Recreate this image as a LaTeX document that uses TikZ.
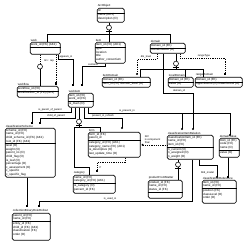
\documentclass[tikz,border=0pt]{standalone}
\usepackage{fontspec}
\setmainfont{Liberation Sans}
\tikzset{
  ebox/.style={draw, rounded corners=1.6pt, line width=0.6pt, inner sep=0pt, anchor=north west},
  etxt/.style={inner sep=0pt, align=left, font=\fontsize{3.0}{3.6}\selectfont, anchor=north west},
  ettl/.style={inner sep=0pt, font=\fontsize{2.9}{3.3}\selectfont, anchor=south west},
  rel/.style={line width=0.55pt},
  drel/.style={line width=0.55pt, dash pattern=on 1.2pt off 1pt},
  rlab/.style={inner sep=0pt, font=\fontsize{2.6}{3}\selectfont},
  dotend/.style={circle, fill, inner sep=0pt, minimum size=2.2pt},
  sqend/.style={rectangle, fill, inner sep=0pt, minimum size=2.2pt},
  gcirc/.style={circle, draw, line width=0.55pt, inner sep=0pt, minimum size=5pt},
}
% #1 name, #2 x, #3 y, #4 w, #5 h, #6 title, #7 key rows, #8 non-key rows, #9 separator offset
\newcommand\ent[9]{%
  \node[ebox, minimum width=#4pt, minimum height=#5pt] (#1) at (#2,#3) {};
  \node[ettl] (#1t) at ([xshift=0.6pt,yshift=0.6pt]#1.north west) {#6};
  \node[etxt] (#1k) at ([xshift=0.9pt,yshift=-0.9pt]#1.north west) {#7};
  \coordinate (#1s) at ([yshift=-#9pt]#1.north west);
  \draw[line width=0.45pt] (#1s) -- (#1s -| #1.east);
  \node[etxt] (#1n) at ([xshift=0.9pt,yshift=-0.7pt]#1s) {#8};
}
\begin{document}
\begin{tikzpicture}[x=1pt,y=-1pt]
\useasboundingbox[fill=white] (0,0) rectangle (250,246);

% ---------- entities ----------
\ent{arc}{97}{8}{27}{14}{ArcObject}{id}{name (AK1)\\description (O)}{4.8}
\ent{wk}{30}{42}{30}{12}{work}{work\_id (FK) (AK1)}{}{4.8}
\ent{it}{95}{42}{30}{21}{item}{item\_id (FK) (AK1)}{type\\location\\title\\author\_consortium}{4.8}
\ent{dm}{150}{43}{35}{10}{domain}{domain\_id (FK)}{domainName (O)}{4.8}
\ent{idm}{102}{77}{48}{10}{itemDomain}{domain\_id (FK)}{item\_id (FK) domain\_level (O)}{4.8}
\ent{ldm}{168}{77}{25}{10}{localDomain}{domain\_id (FK)}{value (O)}{4.8}
\ent{rdm}{195}{77}{47}{10}{rangeDomain}{domain\_id (FK)}{upperBound (O) lowerBound (O)}{4.8}
\ent{wf}{17}{86}{41}{11}{workflow}{workflow\_id (FK)}{workflowDoc\_id (FK) (AK1)}{4.8}
\ent{wi}{68}{93}{25}{14}{workitem}{item\_id (FK)\\work\_id (FK)}{is\_main (O)}{8.4}
\ent{cs}{5}{128}{50}{49}{classificationScheme}{scheme\_id (FK)\\name\_id (FK)\\child\_scheme\_id (FK) (AK1)\\root\_id (FK) (AK1)}{level (O)\\weight (O)\\parent\_no (O)\\child\_flag (O)\\is\_leaf (O)\\percentage (O)\\c\_assessment (O)\\c\_specific\\c\_specific\_flag}{15.6}
\ent{fm}{88}{132}{52}{25}{form}{form\_id (FK)\\parent\_id}{category\_id (FK) (AK1)\\category\_name (FK) (AK1)\\is\_descriptive (O)\\last\_update\_time (O)}{8.4}
\ent{ci}{167}{135}{46}{24}{classificationItemRelation}{classificationItem\_id (FK)\\name\_id (FK)\\item\_id (FK)}{n\_current (O)\\n\_assigned (O)\\n\_weight (O)}{12}
\ent{dv}{219}{138}{20}{19}{domainValue}{dom\_id (FK)\\code (FK)\\name (O)}{value (O)}{12}
\ent{pm}{148}{180}{34}{18}{productFromMatter}{product\_id (FK)\\name\_id (FK)\\status\_id (FK)}{}{12}
\ent{cr}{202}{180}{34}{23}{classificationReference}{item\_id (FK)\\name\_id (FK)}{position (FK)\\classLevel (O)\\order (O)}{8.4}
\ent{ct}{73}{175}{42}{18}{category}{name\_id (FK)\\category\_id (FK) (AK1)}{is\_category (O)\\percent\_id (FK)}{8.4}
\ent{cb}{12}{213}{38}{27}{collectionBinaryRoleRollout}{parent\_id (FK)\\name\_id (FK)}{entity\_id (FK)\\child\_id (FK) (AK1)\\classification (FK)\\order (O)}{8.4}

% ---------- ArcObject category ----------
\node[gcirc] (g1) at ([xshift=12pt,yshift=-5pt]arc.south west) {};
\draw[rel] (g1.north |- arc.south) -- (g1.north);
\draw[rel] ([xshift=-3pt,yshift=-1pt]g1.south) -- ([xshift=3pt,yshift=-1pt]g1.south);
\coordinate (sp1) at ([yshift=-3.5pt]g1.south);
\draw[rel] (g1.south) -- (sp1);
\coordinate (wkin) at ([xshift=17pt]wk.north west);
\coordinate (itin) at (sp1 |- it.north);
\coordinate (dmin) at ([xshift=20pt]dm.north west);
\draw[rel] (wkin) |- (sp1) -| (dmin);
\draw[rel] (sp1) -- (itin);

% ---------- work -> workflow ----------
\coordinate (p2a) at ([xshift=10pt]wk.south west);
\node[gcirc] (g2) at ([yshift=-12pt]p2a) {};
\draw[drel] (p2a) -- (g2.north);
\draw[rel] (g2.south) -- (g2.south |- wf.north);
\node[rlab] (l2) at (49,61) {rk1 : rep};
\coordinate (p3a) at ([xshift=26pt]wk.south west);
\coordinate (m3) at ([xshift=39pt,yshift=2.5pt]wf.north west);
\draw[drel] (p3a) -- (m3);
\node[sqend] (s3) at (m3) {};

% ---------- work / item -> workitem ----------
\coordinate (p4a) at ([xshift=28pt]wk.south west);
\coordinate (m4) at ([xshift=5pt,yshift=8pt]wi.north west);
\draw[rel] (p4a) -- ++(0,5) -| (m4);
\node[sqend] (s4) at (m4) {};
\node[rlab] (l4) at (66,57.3) {appears\_in};
\coordinate (p5a) at ([xshift=10pt]it.south west);
\coordinate (m5) at ([xshift=14pt,yshift=8pt]wi.north west);
\draw[rel] (p5a) -- ++(0,3) -| (m5);
\node[sqend] (s5) at (m5) {};
\node[rlab] (l5) at (93,64.6) {contains};

% ---------- domain relations ----------
\coordinate (p6a) at ([xshift=7pt]dm.south west);
\coordinate (m6) at ([xshift=35pt,yshift=3pt]idm.north west);
\draw[drel] (p6a) -- ++(0,6) -| (m6);
\node[dotend] (d6) at (m6) {};
\node[rlab] (l6) at (146,57.2) {dm\_level};
\coordinate (p7a) at ([xshift=30pt]dm.south west);
\coordinate (m7) at ([xshift=30pt,yshift=3pt]rdm.north west);
\draw[drel] (p7a) -- ++(0,5) -| (m7);
\node[sqend] (s7) at (m7) {};
\node[rlab] (l7) at (204,56.2) {rangeType};

\node[gcirc] (g3) at ([xshift=26pt,yshift=-10pt]dm.south west) {};
\draw[rel] (g3.north |- dm.south) -- (g3.north);
\draw[rel] ([xshift=-3pt,yshift=-1pt]g3.south) -- ([xshift=3pt,yshift=-1pt]g3.south);
\coordinate (sp3) at ([yshift=-3pt]g3.south);
\draw[rel] (g3.south) -- (sp3);
\coordinate (c3a) at ([xshift=38pt]idm.north west);
\coordinate (c3b) at ([xshift=17pt]ldm.north west);
\coordinate (c3c) at ([xshift=8pt]rdm.north west);
\draw[rel] (c3a) |- (sp3) -| (c3c);
\draw[rel] (sp3 -| c3b) -- (c3b);

\coordinate (p9a) at ([xshift=13pt]dm.south west);
\coordinate (m9) at ([xshift=26pt,yshift=6pt]ci.north west);
\draw[rel] (p9a) -- ++(0,40) -| (m9);
\node[dotend] (d9) at (m9) {};
\node[rlab] (l9) at (179,91.2) {domain\_id};

% ---------- workitem relations ----------
\coordinate (p10a) at ([xshift=3pt]wi.south west);
\coordinate (m10) at ([xshift=27pt,yshift=5pt]cs.north west);
\draw[rel] (p10a) -- ++(0,5) -| (m10);
\node[sqend] (s10) at (m10) {};
\node[rlab] (l10) at (50,110.3) {is\_parent\_of\_parent};
\coordinate (p11a) at ([xshift=7pt]wi.south west);
\coordinate (m11) at ([xshift=35pt,yshift=5pt]cs.north west);
\draw[rel] (p11a) -- ++(0,11) -| (m11);
\node[sqend] (s11) at (m11) {};
\node[rlab] (l11) at (56,116.3) {child\_of\_parent};

\coordinate (p12a) at ([xshift=20pt]wi.south west);
\coordinate (j12) at ([yshift=-6pt]p12a);
\coordinate (m12a) at ([xshift=11pt,yshift=3pt]dv.north west);
\coordinate (m12b) at ([xshift=15pt,yshift=6pt]ci.north west);
\draw[rel] (p12a) -- (j12) -| (m12a);
\draw[rel] (j12 -| m12b) -- (m12b);
\node[dotend] (d12a) at (m12a) {};
\node[dotend] (d12b) at (m12b) {};
\node[rlab] (l12) at (127,111.3) {is\_present\_in};

\coordinate (p13a) at ([xshift=16pt]wi.south west);
\coordinate (m13) at ([xshift=34pt,yshift=4pt]fm.north west);
\draw[rel] (p13a) -- ++(0,11) -| (m13);
\node[dotend] (d13) at (m13) {};
\node[rlab] (l13) at (103,116.3) {present\_in\_refresh};

\node[gcirc] (g4) at ([xshift=11pt,yshift=-14pt]wi.south west) {};
\draw[rel] (g4.north |- wi.south) -- (g4.north);
\draw[rel] ([xshift=-3pt,yshift=-1pt]g4.south) -- ([xshift=3pt,yshift=-1pt]g4.south);
\coordinate (sp4) at ([yshift=-2.5pt]g4.south);
\coordinate (k1) at ([xshift=-5pt]sp4);
\coordinate (k2) at ([xshift=-5pt,yshift=-40pt]sp4);
\coordinate (c4a) at ([xshift=16pt]ct.north west);
\coordinate (c4b) at ([xshift=12pt]fm.north west);
\draw[rel] (g4.south) -- (sp4) -- (k1) -- (k2) -| (c4a);
\draw[rel] (sp4) -| (c4b);

% ---------- form relations ----------
\coordinate (p15a) at ([xshift=37pt]fm.south west);
\coordinate (m15) at ([xshift=24pt,yshift=4pt]ct.north west);
\draw[drel] (p15a) -- ++(0,5) -| (m15);
\node[sqend] (s15) at (m15) {};
\node[rlab] (l15) at (100.5,167.5) {P};
\coordinate (m16) at ([xshift=2pt]fm.east);
\draw[drel] (m16) -- (m16 -| ci.west);
\node[dotend] (d16) at (m16) {};
\node[rlab, align=left, anchor=south west] (l16) at ([xshift=2pt,yshift=1pt]m16) {R/2\\is component\\final};

% ---------- classificationItemRelation relations ----------
\node[gcirc] (g5) at ([xshift=11pt,yshift=-5pt]ci.south west) {};
\draw[rel] (g5.north |- ci.south) -- (g5.north);
\draw[rel] ([xshift=-3pt,yshift=-1pt]g5.south) -- ([xshift=3pt,yshift=-1pt]g5.south);
\draw[rel] (g5.south) -- (g5.south |- pm.north);

\coordinate (p17a) at ([xshift=25pt]ci.south west);
\coordinate (m17) at ([xshift=27pt,yshift=7pt]cb.north west);
\draw[rel] (p17a) -- ++(0,42) -| (m17);
\node[sqend] (s17) at (m17) {};
\node[rlab] (l17) at (110,199.3) {is\_used\_in};

\coordinate (p18a) at ([xshift=22pt]cs.south west);
\coordinate (m18) at ([xshift=15pt,yshift=7pt]cb.north west);
\draw[rel] (p18a) -- (m18);
\node[sqend] (s18) at (m18) {};

\coordinate (p19a) at ([xshift=32pt]ci.south west);
\coordinate (m19) at ([xshift=15pt,yshift=3pt]cr.north west);
\draw[rel] (p19a) -- ++(0,6) -| (m19);
\node[dotend] (d19) at (m19) {};
\node[rlab] (l19) at (207.5,173) {bhd\_model};

\coordinate (p20a) at ([xshift=9pt]dv.south west);
\coordinate (m20) at ([xshift=26pt,yshift=3pt]cr.north west);
\draw[rel] (p20a) -- (m20);
\node[sqend] (s20) at (m20) {};
\end{tikzpicture}
\end{document}
